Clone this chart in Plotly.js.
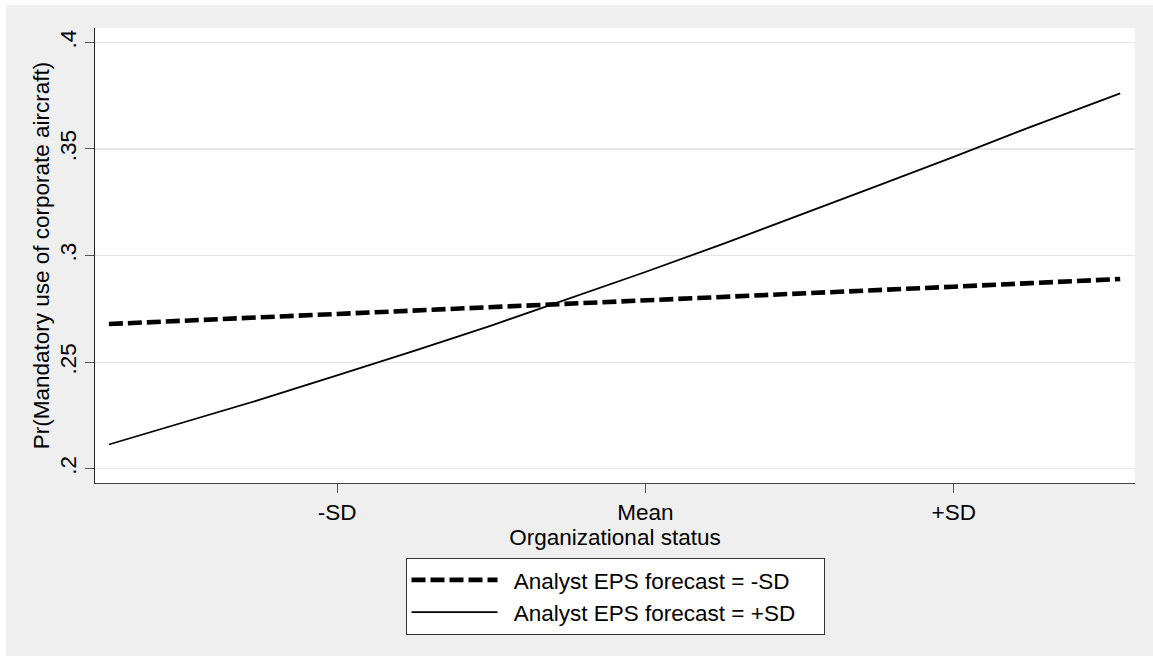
<!DOCTYPE html>
<html>
<head>
<meta charset="utf-8">
<script src="https://cdn.plot.ly/plotly-3.0.1.min.js"></script>
<style>
  html, body { margin: 0; padding: 0; background: #ffffff; }
  #chart { position: absolute; left: 6px; top: 5px; width: 1147px; height: 651px; }
</style>
</head>
<body>
<div id="chart"></div>
<script>
// Organizational status in SD units (x axis)
const statusSD = [-1.74, -1.5, -1.25, -1, -0.75, -0.5, -0.25, 0, 0.25, 0.5, 0.75, 1, 1.25, 1.54];
// Predicted probability, Analyst EPS forecast = -SD (dashed)
const probLowEPS = [0.2679, 0.2694, 0.2711, 0.2726, 0.2742, 0.2758, 0.2774, 0.2790, 0.2806, 0.2822, 0.2838, 0.2854, 0.2871, 0.2890];
// Predicted probability, Analyst EPS forecast = +SD (solid)
const probHighEPS = [0.2114, 0.2216, 0.2324, 0.2438, 0.2553, 0.2672, 0.2796, 0.2923, 0.3054, 0.3189, 0.3326, 0.3463, 0.3604, 0.3761];

const xTickVals = [-1, 0, 1];
const xTickText = ['-SD', 'Mean', '+SD'];
const yTickVals = [0.2, 0.25, 0.3, 0.35, 0.4];
const yTickText = ['.2', '.25', '.3', '.35', '.4'];
const seriesNames = ['Analyst EPS forecast = -SD', 'Analyst EPS forecast = +SD'];

const FONT = 'Liberation Sans, Arial, Helvetica, sans-serif';
const FS = 22.5;
const PADL = '\u2002';
const PADR = '\u2003';

const traces = [
  {
    x: statusSD, y: probLowEPS, type: 'scatter', mode: 'lines', name: PADL + seriesNames[0] + PADR,
    line: { color: '#000000', width: 4.6, dash: '14px,5px' }
  },
  {
    x: statusSD, y: probHighEPS, type: 'scatter', mode: 'lines', name: PADL + seriesNames[1] + PADR,
    line: { color: '#000000', width: 1.8 }
  }
];

const layout = {
  width: 1147, height: 651,
  paper_bgcolor: '#efefef',
  plot_bgcolor: '#ffffff',
  margin: { l: 89.3, r: 18, t: 23.3, b: 172.5, pad: 0 },
  font: { family: FONT, size: FS, color: '#000000' },
  showlegend: true,
  legend: {
    x: 0.5, xanchor: 'center', y: -0.1643, yanchor: 'top',
    bgcolor: '#ffffff', bordercolor: '#333333', borderwidth: 1,
    font: { family: FONT, size: FS, color: '#000000' },
    itemwidth: 86, tracegroupgap: 0
  },
  xaxis: {
    range: [-1.785, 1.588],
    tickmode: 'array', tickvals: xTickVals, ticktext: xTickText,
    ticks: 'outside', ticklen: 9, tickwidth: 1, tickcolor: '#555555',
    showgrid: false, zeroline: false,
    showline: true, linecolor: '#444444', linewidth: 1.3,
    tickfont: { family: FONT, size: FS, color: '#000000' },
    title: { text: 'Organizational status', font: { family: FONT, size: FS, color: '#000000' }, standoff: 4 },
    fixedrange: true
  },
  yaxis: {
    range: [0.19334, 0.40675],
    tickmode: 'array', tickvals: yTickVals, ticktext: yTickText,
    tickangle: -90,
    ticks: 'outside', ticklen: 9, tickwidth: 1, tickcolor: '#555555',
    showgrid: true, gridcolor: '#e6e6e6', gridwidth: 1.3,
    zeroline: false,
    showline: true, linecolor: '#222222', linewidth: 1,
    tickfont: { family: FONT, size: FS, color: '#000000' },
    title: { text: 'Pr(Mandatory use of corporate aircraft)', font: { family: FONT, size: FS, color: '#000000' }, standoff: 0 },
    fixedrange: true
  }
};

Plotly.newPlot('chart', traces, layout, { displayModeBar: false, staticPlot: true });
</script>
</body>
</html>
